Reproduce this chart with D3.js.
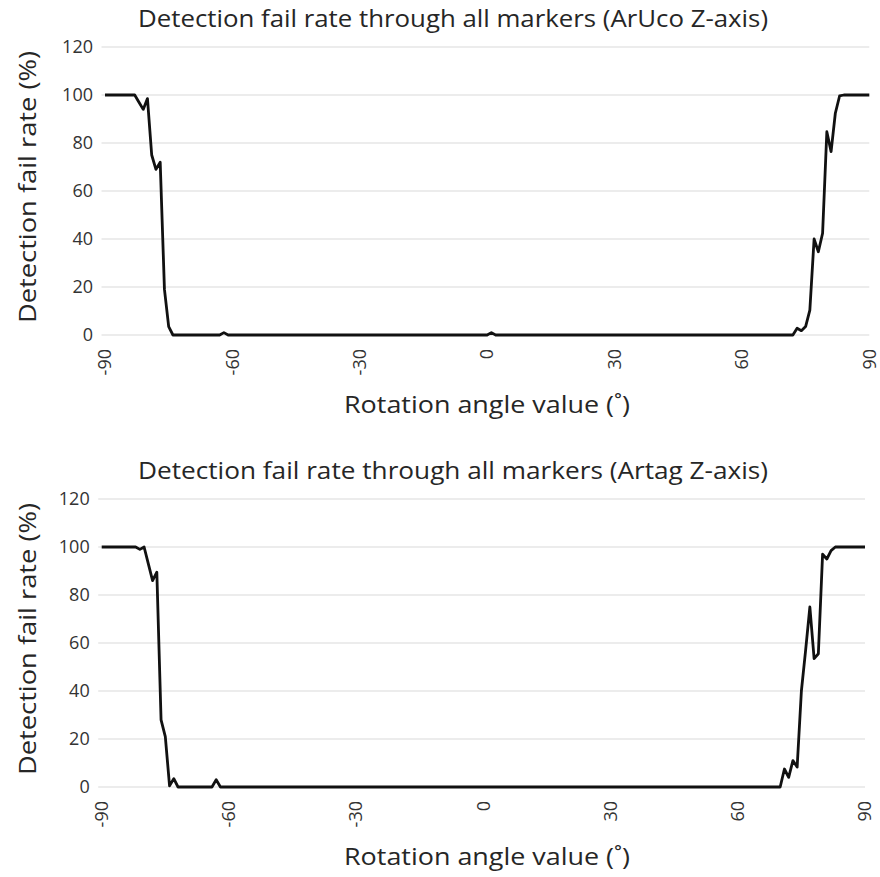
<!DOCTYPE html>
<html lang="en">
<head>
    <meta charset="UTF-8">
    <title>Detection fail rate - Z-axis</title>
    <script src="https://d3js.org/d3.v7.min.js"></script>
    <style>
        body { margin: 0; background: #fff; }
        .grid line { stroke: #d9d9d9; stroke-width: 1; }
        .series { fill: none; stroke: #111; stroke-width: 2.8; stroke-linejoin: round; }
        text { font-family: "Open Sans", "Liberation Sans", sans-serif; fill: #262626; }
        .title { font-size: 24px; }
        .axis-title { font-size: 24px; }
        .tick-label { font-size: 18px; fill: #333; }
    </style>
</head>
<body>
<svg width="880" height="877"></svg>
<script>
    // categories: rotation angle, one point per degree
    const angles = d3.range(-90, 91);

    const xTicks = [-90, -60, -30, 0, 30, 60, 90];
    const yTicks = [0, 20, 40, 60, 80, 100, 120];

    // fail rate (%), -90 .. 90
    const arucoFail = [
        100, 100, 100, 100, 100, 100, 100, 100, 97, 94,      // -90 .. -81
        98.5, 75, 69, 72, 19, 3.5, 0, 0, 0, 0,              // -80 .. -71
        0, 0, 0, 0, 0, 0, 0, 0, 1, 0,                        // -70 .. -61
        0, 0, 0, 0, 0, 0, 0, 0, 0, 0,                        // -60 .. -51
        0, 0, 0, 0, 0, 0, 0, 0, 0, 0,                        // -50 .. -41
        0, 0, 0, 0, 0, 0, 0, 0, 0, 0,                        // -40 .. -31
        0, 0, 0, 0, 0, 0, 0, 0, 0, 0,                        // -30 .. -21
        0, 0, 0, 0, 0, 0, 0, 0, 0, 0,                        // -20 .. -11
        0, 0, 0, 0, 0, 0, 0, 0, 0, 0,                        // -10 .. -1
        0, 1, 0, 0, 0, 0, 0, 0, 0, 0,                        // 0 .. 9
        0, 0, 0, 0, 0, 0, 0, 0, 0, 0,                        // 10 .. 19
        0, 0, 0, 0, 0, 0, 0, 0, 0, 0,                        // 20 .. 29
        0, 0, 0, 0, 0, 0, 0, 0, 0, 0,                        // 30 .. 39
        0, 0, 0, 0, 0, 0, 0, 0, 0, 0,                        // 40 .. 49
        0, 0, 0, 0, 0, 0, 0, 0, 0, 0,                        // 50 .. 59
        0, 0, 0, 0, 0, 0, 0, 0, 0, 0,                        // 60 .. 69
        0, 0, 0, 2.8, 1.8, 3.5, 10.4, 40, 34.7, 42.4,        // 70 .. 79
        84.7, 76.4, 92.4, 99.6, 100, 100, 100, 100, 100, 100, // 80 .. 89
        100                                                  // 90
    ];

    const artagFail = [
        100, 100, 100, 100, 100, 100, 100, 100, 100, 99,     // -90 .. -81
        100, 93, 86, 89.5, 28, 21, 0.5, 3.5, 0, 0,          // -80 .. -71
        0, 0, 0, 0, 0, 0, 0, 3, 0, 0,                        // -70 .. -61
        0, 0, 0, 0, 0, 0, 0, 0, 0, 0,                        // -60 .. -51
        0, 0, 0, 0, 0, 0, 0, 0, 0, 0,                        // -50 .. -41
        0, 0, 0, 0, 0, 0, 0, 0, 0, 0,                        // -40 .. -31
        0, 0, 0, 0, 0, 0, 0, 0, 0, 0,                        // -30 .. -21
        0, 0, 0, 0, 0, 0, 0, 0, 0, 0,                        // -20 .. -11
        0, 0, 0, 0, 0, 0, 0, 0, 0, 0,                        // -10 .. -1
        0, 0, 0, 0, 0, 0, 0, 0, 0, 0,                        // 0 .. 9
        0, 0, 0, 0, 0, 0, 0, 0, 0, 0,                        // 10 .. 19
        0, 0, 0, 0, 0, 0, 0, 0, 0, 0,                        // 20 .. 29
        0, 0, 0, 0, 0, 0, 0, 0, 0, 0,                        // 30 .. 39
        0, 0, 0, 0, 0, 0, 0, 0, 0, 0,                        // 40 .. 49
        0, 0, 0, 0, 0, 0, 0, 0, 0, 0,                        // 50 .. 59
        0, 0, 0, 0, 0, 0, 0, 0, 0, 0,                        // 60 .. 69
        0, 7.5, 4, 11, 8.3, 40, 57, 75, 53.5, 55.5,          // 70 .. 79
        97, 95, 98.5, 100, 100, 100, 100, 100, 100, 100,     // 80 .. 89
        100                                                  // 90
    ];

    const svg = d3.select("svg");

    function drawChart(top, left, right, title, values) {
        const g = svg.append("g").attr("transform", `translate(0,${top})`);

        const x = d3.scaleLinear().domain([-90, 90]).range([left, right]);
        const y = d3.scaleLinear().domain([0, 120]).range([335, 47]);

        // horizontal gridlines
        g.append("g").attr("class", "grid")
         .selectAll("line").data(yTicks).join("line")
         .attr("x1", left - 3.5).attr("x2", right)
         .attr("y1", d => y(d)).attr("y2", d => y(d));

        // y tick labels
        g.selectAll(".ylab").data(yTicks).join("text")
         .attr("class", "tick-label ylab")
         .attr("x", left - 12)
         .attr("y", d => y(d))
         .attr("dy", "0.35em")
         .attr("text-anchor", "end")
         .text(d => d);

        // x tick labels, turned to read upward
        g.selectAll(".xlab").data(xTicks).join("text")
         .attr("class", "tick-label xlab")
         .attr("transform", d => `translate(${x(d)},${y(0) + 14}) rotate(-90)`)
         .attr("dy", "0.35em")
         .attr("text-anchor", "end")
         .text(d => d);

        const line = d3.line()
            .x((d, i) => x(angles[i]))
            .y(d => y(d));

        g.append("path").datum(values)
         .attr("class", "series")
         .attr("d", line);

        // the source text is drawn a little wider than the font, so stretch to fit
        g.append("text").attr("class", "title")
         .attr("x", 453).attr("y", 19).attr("dy", "0.35em")
         .attr("text-anchor", "middle")
         .attr("textLength", 630).attr("lengthAdjust", "spacingAndGlyphs")
         .text(title);

        g.append("text").attr("class", "axis-title")
         .attr("x", 487).attr("y", y(0) + 70).attr("dy", "0.35em")
         .attr("text-anchor", "middle")
         .attr("textLength", 286).attr("lengthAdjust", "spacingAndGlyphs")
         .text("Rotation angle value (˚)");

        g.append("text").attr("class", "axis-title")
         .attr("transform", `translate(28,${(y(0) + y(120)) / 2 - 4}) rotate(-90)`)
         .attr("dy", "0.35em")
         .attr("text-anchor", "middle")
         .attr("textLength", 272).attr("lengthAdjust", "spacingAndGlyphs")
         .text("Detection fail rate (%)");
    }

    drawChart(0, 105, 869.3, "Detection fail rate through all markers (ArUco Z-axis)", arucoFail);
    drawChart(452, 101.7, 865, "Detection fail rate through all markers (Artag Z-axis)", artagFail);
</script>
</body>
</html>
